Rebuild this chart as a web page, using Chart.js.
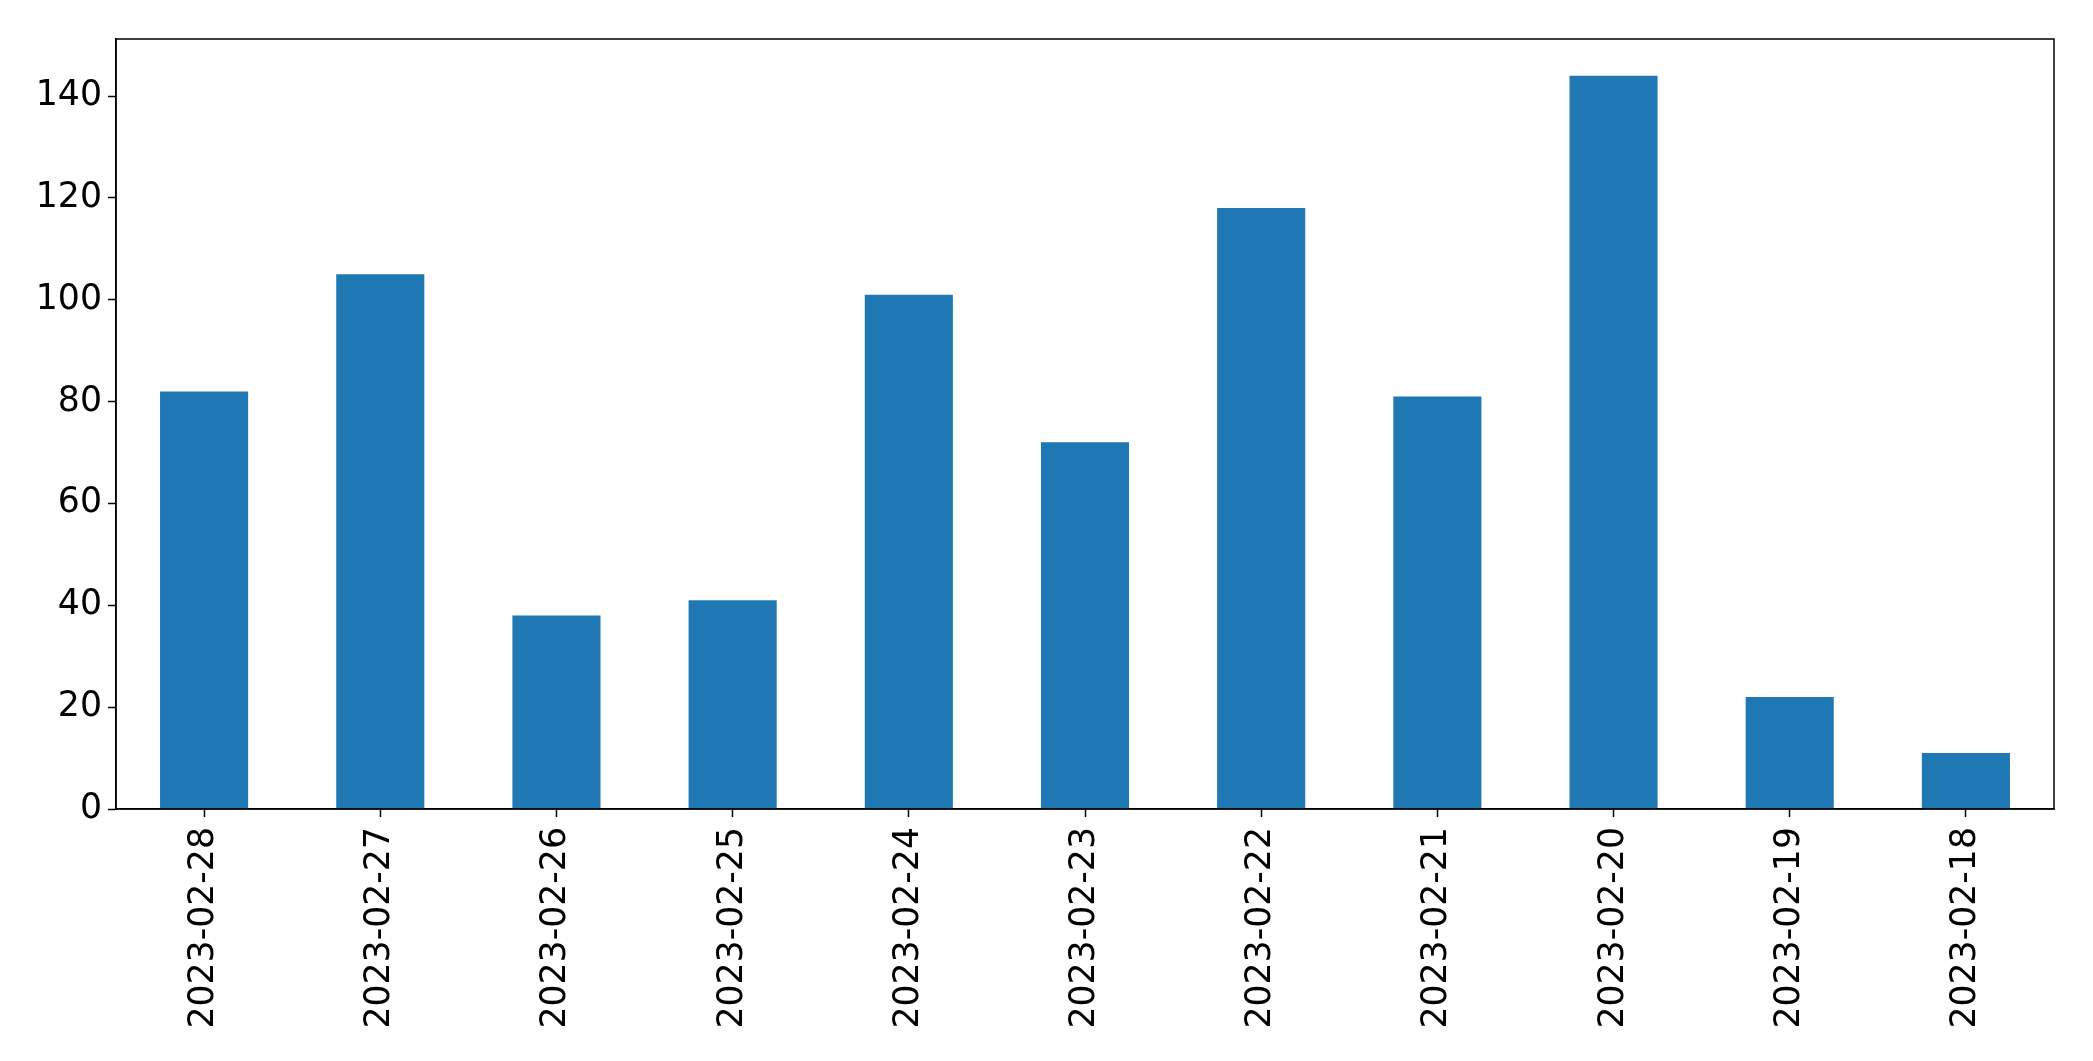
<!DOCTYPE html>
<html>
<head>
<meta charset="utf-8">
<script src="https://cdn.jsdelivr.net/npm/chart.js@4"></script>
<style>
  html, body { margin: 0; padding: 0; background: #fff; }
  #wrap { width: 2093px; height: 1061px; }
</style>
</head>
<body>
<div id="wrap"><canvas id="barChart" width="2093" height="1061"></canvas></div>
<script>
const dates = ['2023-02-28', '2023-02-27', '2023-02-26', '2023-02-25', '2023-02-24', '2023-02-23',
  '2023-02-22', '2023-02-21', '2023-02-20', '2023-02-19', '2023-02-18'];
const counts = [82, 105, 38, 41, 101, 72, 118, 81, 144, 22, 11];
const yTicks = [0, 20, 40, 60, 80, 100, 120, 140];

// matplotlib style frame around the plot area
const frame = {
  id: 'frame',
  afterDraw: function (chart) {
    const a = chart.chartArea;
    const ctx = chart.ctx;
    ctx.save();
    ctx.strokeStyle = '#000';
    ctx.lineWidth = 1.5;
    ctx.strokeRect(a.left, a.top, a.right - a.left, a.bottom - a.top);
    ctx.restore();
  }
};

const font = { family: 'DejaVu Sans', size: 34.7 };

new Chart(document.getElementById('barChart'), {
  type: 'bar',
  data: {
    labels: dates,
    datasets: [{
      data: counts,
      backgroundColor: '#1f77b4',
      borderWidth: 0,
      categoryPercentage: 1,
      barPercentage: 0.5
    }]
  },
  options: {
    responsive: false,
    animation: false,
    layout: { padding: { top: 39, right: 39, left: 0, bottom: 0 } },
    plugins: { legend: { display: false }, tooltip: { enabled: false } },
    scales: {
      x: {
        grid: { display: true, offset: false, drawOnChartArea: false, tickLength: 8, tickColor: '#000', tickWidth: 1.5 },
        border: { display: true, color: '#000', width: 1.5 },
        ticks: { color: '#000', font: font, minRotation: 90, maxRotation: 90, padding: 10, autoSkip: false },
        afterFit: function (s) { s.height = 252; }
      },
      y: {
        min: 0,
        max: 151.2,
        grid: { display: true, drawOnChartArea: false, tickLength: 8, tickColor: '#000', tickWidth: 1.5 },
        border: { display: true, color: '#000', width: 1.5 },
        ticks: { color: '#000', font: font, padding: 6 },
        afterBuildTicks: function (s) { s.ticks = yTicks.map(function (v) { return { value: v }; }); },
        afterFit: function (s) { s.width = 116; }
      }
    }
  },
  plugins: [frame]
});
</script>
</body>
</html>
